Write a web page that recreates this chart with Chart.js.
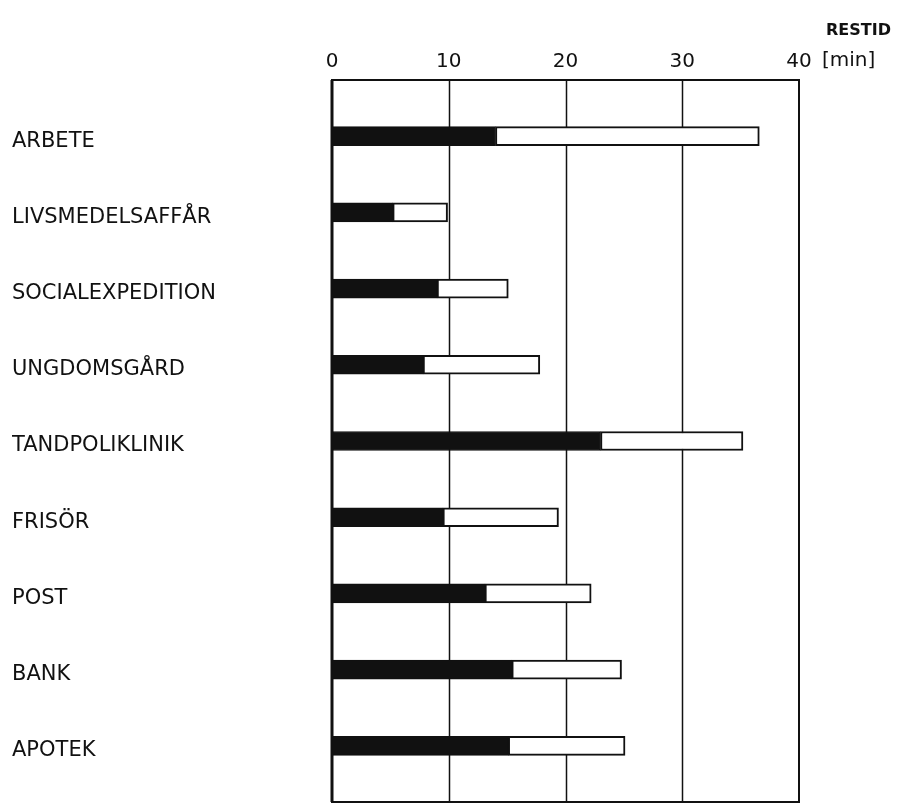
<!DOCTYPE html>
<html>
<head>
<meta charset="utf-8">
<script src="https://cdn.jsdelivr.net/npm/chart.js@4/dist/chart.umd.min.js"></script>
<style>
  html, body { margin: 0; padding: 0; background: #ffffff; }
  #wrap { width: 913px; height: 805px; position: relative; }
</style>
</head>
<body>
<div id="wrap"><canvas id="c" width="913" height="805"></canvas></div>
<script>
// ---- data ----
const categories = ["ARBETE", "LIVSMEDELSAFFÅR", "SOCIALEXPEDITION", "UNGDOMSGÅRD",
  "TANDPOLIKLINIK", "FRISÖR", "POST", "BANK", "APOTEK"];
// black segment (minutes)
const blackPart = [14.0, 5.2, 9.0, 7.8, 23.0, 9.5, 13.1, 15.4, 15.1];
// total bar length (minutes)
const totalTime = [36.6, 9.9, 15.1, 17.8, 35.2, 19.4, 22.2, 24.8, 25.1];
const xTicks = [0, 10, 20, 30, 40];
const axisTitle = "RESTID";
const unitLabel = "[min]";

const whitePart = totalTime.map((t, i) => +(t - blackPart[i]).toFixed(1));

const ink = "#111111";
const FONT = "'DejaVu Sans', sans-serif";

const framePlugin = {
  id: 'frame',
  beforeDatasetsDraw(chart) {
    const ctx = chart.ctx, xs = chart.scales.x, ca = chart.chartArea;
    const top = ca.top - 18, bottom = ca.bottom + 18;
    ctx.save();
    ctx.strokeStyle = ink;
    ctx.lineWidth = 1.5;
    xTicks.slice(1, -1).forEach(v => {
      const x = Math.round(xs.getPixelForValue(v)) + 0.5;
      ctx.beginPath(); ctx.moveTo(x, top); ctx.lineTo(x, bottom); ctx.stroke();
    });
    const x0 = xs.getPixelForValue(xTicks[0]);
    const x1 = xs.getPixelForValue(xTicks[xTicks.length - 1]);
    ctx.lineWidth = 2;
    ctx.strokeRect(x0, top, x1 - x0, bottom - top);
    ctx.lineWidth = 3;
    ctx.beginPath(); ctx.moveTo(x0, top); ctx.lineTo(x0, bottom); ctx.stroke();
    ctx.restore();
  },
  afterDraw(chart) {
    const ctx = chart.ctx, xs = chart.scales.x;
    const x40 = xs.getPixelForValue(xTicks[xTicks.length - 1]);
    ctx.save();
    ctx.fillStyle = ink;
    ctx.textBaseline = 'middle';
    ctx.textAlign = 'left';
    ctx.font = "20px " + FONT;
    ctx.fillText(unitLabel, x40 + 23, 61);
    ctx.font = "bold 16px " + FONT;
    ctx.fillText(axisTitle, x40 + 27, 31);
    ctx.restore();
  }
};

new Chart(document.getElementById('c'), {
  type: 'bar',
  data: {
    labels: categories,
    datasets: [
      {
        label: 'black',
        data: blackPart,
        backgroundColor: ink,
        borderColor: ink,
        borderWidth: 1,
        barThickness: 19,
        borderSkipped: false
      },
      {
        label: 'white',
        data: whitePart,
        backgroundColor: '#ffffff',
        borderColor: ink,
        borderWidth: 2,
        barThickness: 19,
        borderSkipped: false
      }
    ]
  },
  options: {
    indexAxis: 'y',
    responsive: false,
    animation: false,
    layout: { padding: { left: 12, right: 114, top: 26, bottom: 21 } },
    plugins: { legend: { display: false }, tooltip: { enabled: false } },
    scales: {
      x: {
        position: 'top',
        stacked: true,
        min: 0, max: 40,
        afterBuildTicks(scale) { scale.ticks = xTicks.map(v => ({ value: v })); },
        grid: { display: false, drawTicks: false },
        border: { display: false },
        ticks: { color: ink, font: { family: FONT, size: 20 }, padding: 24 }
      },
      y: {
        stacked: true,
        grid: { display: false, drawTicks: false },
        border: { display: false },
        afterFit(scale) { scale.width = 320; },
        ticks: { color: ink, crossAlign: 'far', labelOffset: 5, font: { family: FONT, size: 21 }, padding: 0 }
      }
    }
  },
  plugins: [framePlugin]
});
</script>
</body>
</html>
